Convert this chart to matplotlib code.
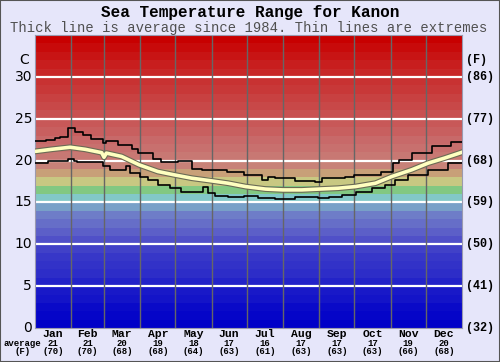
import numpy as np
import matplotlib.pyplot as plt
import matplotlib.patheffects as pe
from matplotlib.patches import Rectangle

months = ['Jan', 'Feb', 'Mar', 'Apr', 'May', 'Jun', 'Jul', 'Aug', 'Sep', 'Oct', 'Nov', 'Dec']
month_start = [0, 31, 59, 90, 120, 151, 181, 212, 243, 273, 304, 334, 365]
avg_c = [21, 21, 20, 19, 18, 17, 16, 17, 17, 17, 19, 20]
avg_f = [70, 70, 68, 68, 64, 63, 61, 63, 63, 63, 66, 68]

c_ticks = [0, 5, 10, 15, 20, 25, 30]
f_ticks = [32, 41, 50, 59, 68, 77, 86]

# daily average (thick line)
mean_day = [0, 14, 30, 43, 57, 59, 61, 74, 89, 105, 119, 134, 150, 165, 180, 197,
            212, 228, 243, 259, 274, 291, 305, 322, 336, 350, 365]
mean_c = [21.1, 21.35, 21.6, 21.35, 20.95, 20.4, 20.9, 20.5, 19.5, 18.7, 18.3, 17.9,
          17.6, 17.3, 16.9, 16.6, 16.5, 16.5, 16.6, 16.7, 16.9, 17.3, 18.1, 18.9,
          19.7, 20.3, 21.0]

# extremes (thin step lines)
upper_day = [0, 9, 17, 21, 28, 34, 41, 48, 58, 61, 71, 83, 88, 101, 108, 122, 134, 143,
             164, 179, 194, 199, 205, 222, 239, 245, 265, 273, 296, 306, 311, 322, 339,
             356, 365]
upper_c = [22.3, 22.5, 22.7, 22.8, 23.9, 23.4, 23.1, 22.6, 22.1, 22.3, 21.9, 21.4, 20.9,
           20.2, 19.8, 19.9, 19.0, 18.9, 18.7, 18.3, 17.7, 18.1, 17.9, 17.6, 17.5, 17.9,
           18.1, 18.3, 18.7, 19.7, 20.1, 20.9, 21.7, 22.2, 22.2]
lower_day = [0, 11, 20, 28, 33, 36, 58, 64, 78, 81, 90, 97, 105, 115, 125, 144, 148, 154,
             165, 179, 191, 205, 222, 242, 251, 262, 274, 288, 299, 308, 319, 336, 353, 365]
lower_c = [19.7, 19.9, 20.0, 20.2, 19.9, 19.8, 19.3, 18.9, 19.3, 18.5, 18.1, 17.7, 17.1,
           16.7, 16.3, 16.9, 16.1, 15.8, 15.6, 15.8, 15.5, 15.4, 15.6, 15.5, 15.7, 15.9,
           16.3, 16.7, 17.1, 17.7, 18.3, 18.9, 19.7, 19.7]

# one colour per degree band, 0..35 C
band_rgb = [(0, 0, 200), (5, 5, 200), (10, 10, 200), (20, 20, 200), (25, 25, 200),
            (35, 35, 200), (45, 45, 200), (50, 50, 200), (55, 55, 200), (65, 65, 200),
            (80, 80, 200), (92, 95, 200), (102, 110, 200), (110, 125, 200), (120, 160, 200),
            (130, 200, 200), (130, 200, 130), (200, 200, 130), (200, 160, 120), (200, 130, 120),
            (200, 120, 115), (200, 112, 110), (200, 105, 105), (200, 95, 95), (200, 88, 88),
            (200, 80, 80), (200, 72, 72), (200, 65, 65), (200, 56, 56), (200, 50, 50),
            (200, 40, 40), (200, 30, 30), (200, 20, 20), (200, 10, 10), (200, 0, 0)]

bg = '#e6e6fa'
mono = 'Liberation Mono'

fig = plt.figure(figsize=(5, 3.62), dpi=100, facecolor=bg)
ax = fig.add_axes([0.07, 0.094, 0.854, 0.809])

for i, rgb in enumerate(band_rgb):
    ax.axhspan(i, i + 1, color=np.array(rgb) / 255, lw=0, zorder=0)

for v in c_ticks[1:]:
    ax.axhline(v, color='white', lw=1.6, zorder=1)
for d in month_start[1:-1]:
    ax.axvline(d, color='#666666', lw=1, zorder=1)

ax.step(upper_day, upper_c, where='post', color='black', lw=1.2, zorder=3)
ax.step(lower_day, lower_c, where='post', color='black', lw=1.2, zorder=3)
ax.plot(mean_day, mean_c, color='#ffffc0', lw=2.6, zorder=4,
        path_effects=[pe.Stroke(linewidth=4.2, foreground='#6b6b55'), pe.Normal()])

ax.set_xlim(0, 365)
ax.set_ylim(0, 35)
ax.set_xticks([])
ax.set_yticks([])
for s in ax.spines.values():
    s.set_color('#9a9ab0')
    s.set_linewidth(0.8)

# left Celsius labels, right Fahrenheit labels
for c, f in zip(c_ticks, f_ticks):
    ax.text(-2.5, c, str(c), ha='right', va='center', fontsize=10,
            family='DejaVu Sans', clip_on=False)
    ax.text(368, c, '(%d)' % f, ha='left', va='center', fontsize=8.5,
            family=mono, weight='bold', clip_on=False)
ax.text(-9, 32, 'C', ha='center', va='center', fontsize=10, family='DejaVu Sans')
ax.text(377, 32, '(F)', ha='center', va='center', fontsize=8.5, family=mono, weight='bold')

# bottom month labels
for i, m in enumerate(months):
    xc = (month_start[i] + month_start[i + 1]) / 2
    ax.text(xc, -0.75, m, ha='center', va='center', fontsize=8.2, family=mono,
            weight='bold', clip_on=False)
    ax.text(xc, -1.8, str(avg_c[i]), ha='center', va='center', fontsize=6.5,
            family=mono, weight='bold', clip_on=False)
    ax.text(xc, -2.85, '(%d)' % avg_f[i], ha='center', va='center', fontsize=6.5,
            family=mono, weight='bold', clip_on=False)
fig.text(0.045, 1 - 343 / 362, 'average', ha='center', va='center', fontsize=6.5,
         family=mono, weight='bold')
fig.text(0.045, 1 - 352 / 362, '(F)', ha='center', va='center', fontsize=6.5,
         family=mono, weight='bold')

fig.text(0.5, 1 - 13 / 362, 'Sea Temperature Range for Kanon', ha='center', va='center',
         fontsize=11.5, family=mono, weight='bold')
fig.text(0.497, 1 - 28 / 362, 'Thick line is average since 1984. Thin lines are extremes',
         ha='center', va='center', fontsize=10, family=mono, color='#505050')

fig.patches.append(Rectangle((0, 0), 1, 1, transform=fig.transFigure, fill=False,
                             edgecolor='#555555', lw=1.5))

fig.savefig('out.png', dpi=100, facecolor=bg)
